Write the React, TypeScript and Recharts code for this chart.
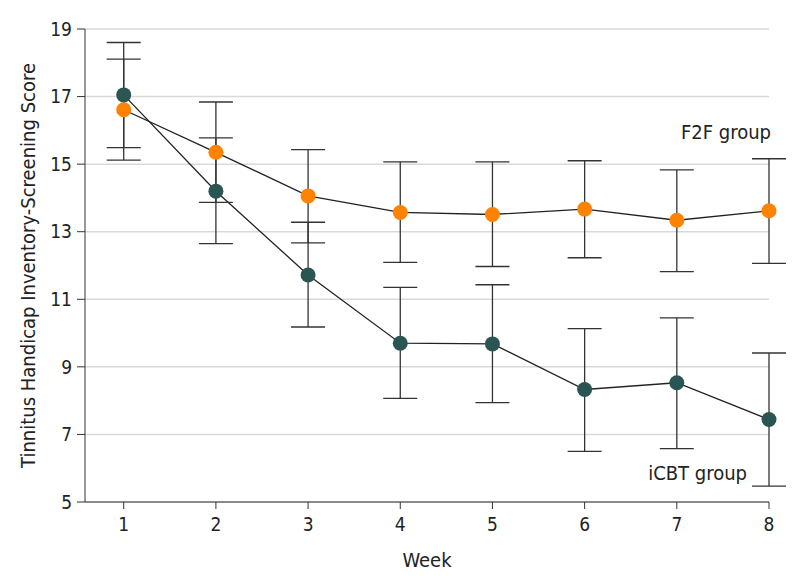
import React from "react";
import {
  LineChart,
  Line,
  XAxis,
  YAxis,
  CartesianGrid,
  ErrorBar,
} from "recharts";

const weeks = [1, 2, 3, 4, 5, 6, 7, 8];

const icbtMean = [17.05, 14.2, 11.72, 9.7, 9.68, 8.33, 8.53, 7.44];
const icbtUpper = [18.6, 15.78, 13.28, 11.35, 11.43, 10.13, 10.45, 9.41];
const icbtLower = [15.49, 12.65, 10.18, 8.07, 7.94, 6.5, 6.58, 5.47];

const f2fMean = [16.61, 15.35, 14.06, 13.57, 13.51, 13.67, 13.34, 13.62];
const f2fUpper = [18.11, 16.84, 15.43, 15.07, 15.07, 15.1, 14.83, 15.16];
const f2fLower = [15.12, 13.87, 12.67, 12.09, 11.97, 12.23, 11.82, 12.06];

const yTicks = [5, 7, 9, 11, 13, 15, 17, 19];

const FONT = '"DejaVu Sans Condensed", "Liberation Sans Narrow", sans-serif';
const TEAL = "#2a5553";
const ORANGE = "#ff8300";
const INK = "#222";

const data = weeks.map((week, i) => ({
  week,
  icbt: icbtMean[i],
  icbtErr: [icbtMean[i] - icbtLower[i], icbtUpper[i] - icbtMean[i]],
  f2f: f2fMean[i],
  f2fErr: [f2fMean[i] - f2fLower[i], f2fUpper[i] - f2fMean[i]],
}));

const YLabel = (props: any) => {
  const vb = props.viewBox || {};
  const cy = vb.y + vb.height / 2;
  return (
    <text
      x={28}
      y={cy}
      transform={`rotate(-90 28 ${cy})`}
      textAnchor="middle"
      dominantBaseline="central"
      fontSize={20}
      fill={INK}
      fontFamily={FONT}
    >
      Tinnitus Handicap Inventory-Screening Score
    </text>
  );
};

const XLabel = (props: any) => {
  const vb = props.viewBox || {};
  return (
    <text
      x={vb.x + vb.width / 2}
      y={567}
      textAnchor="middle"
      fontSize={20}
      fill={INK}
      fontFamily={FONT}
    >
      Week
    </text>
  );
};

export default function App() {
  return (
    <div style={{ position: "absolute", left: 0, top: 0, width: 794, height: 588, background: "#fff" }}>
      <LineChart
        width={794}
        height={588}
        data={data}
        margin={{ top: 29, right: 25, bottom: 16, left: 25 }}
      >
        <CartesianGrid horizontal vertical={false} stroke="#d9d9d9" strokeWidth={1.5} />
        <XAxis
          type="number"
          dataKey="week"
          domain={[0.58, 8]}
          ticks={weeks}
          height={70}
          tickSize={7}
          tickMargin={9}
          stroke="#333"
          tick={{ fill: INK, fontSize: 19, fontFamily: FONT }}
          label={<XLabel />}
        />
        <YAxis
          type="number"
          domain={[5, 19]}
          ticks={yTicks}
          width={60}
          tickSize={8}
          tickMargin={5}
          stroke="#333"
          tick={{ fill: INK, fontSize: 19, fontFamily: FONT }}
          label={<YLabel />}
        />
        <Line
          dataKey="icbt"
          stroke={INK}
          strokeWidth={1.3}
          dot={{ r: 7.5, fill: TEAL, stroke: "none" }}
          activeDot={false}
          isAnimationActive={false}
        >
          <ErrorBar dataKey="icbtErr" width={17} stroke="#333" strokeWidth={1.3} direction="y" />
        </Line>
        <Line
          dataKey="f2f"
          stroke={INK}
          strokeWidth={1.3}
          dot={{ r: 7.5, fill: ORANGE, stroke: "none" }}
          activeDot={false}
          isAnimationActive={false}
        >
          <ErrorBar dataKey="f2fErr" width={17} stroke="#333" strokeWidth={1.3} direction="y" />
        </Line>
      </LineChart>
      <svg
        width={794}
        height={588}
        style={{ position: "absolute", left: 0, top: 0, pointerEvents: "none" }}
      >
        <text x={771} y={139} textAnchor="end" fontSize={20} fill={INK} fontFamily={FONT}>
          F2F group
        </text>
        <text x={747} y={480} textAnchor="end" fontSize={20} fill={INK} fontFamily={FONT}>
          iCBT group
        </text>
      </svg>
    </div>
  );
}
